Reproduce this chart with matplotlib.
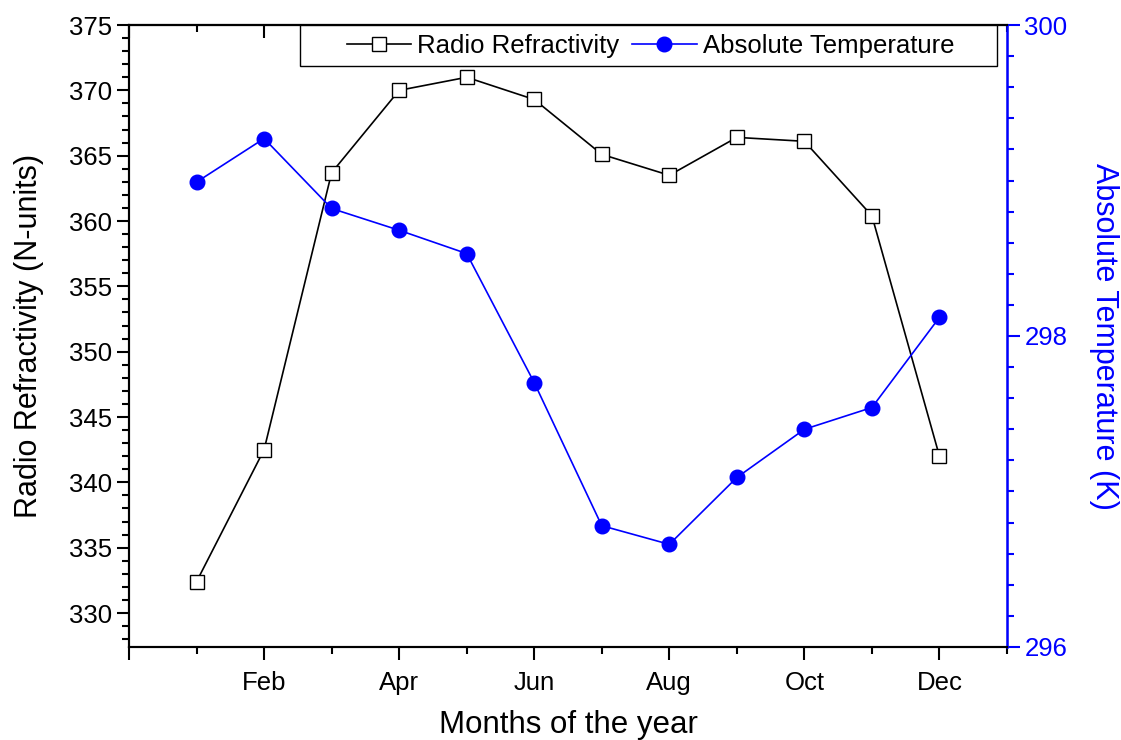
import matplotlib.pyplot as plt
import matplotlib.patches as mpatches
import numpy as np

plt.rcParams['font.family'] = ['Liberation Sans', 'DejaVu Sans']

# datos
meses = [1, 2, 3, 4, 5, 6, 7, 8, 9, 10, 11, 12]
etiquetas_x = ['', 'Feb', 'Apr', 'Jun', 'Aug', 'Oct', 'Dec']
refractividad = [332.4, 342.5, 363.7, 370.0, 371.0, 369.3, 365.1, 363.5, 366.4, 366.1, 360.4, 342.0]
temperatura = [298.99, 299.27, 298.82, 298.68, 298.53, 297.70, 296.78, 296.66, 297.09, 297.40, 297.54, 298.12]

fig = plt.figure(figsize=(11.21, 7.40), dpi=100)
ax = fig.add_axes([0.1151, 0.1257, 0.7832, 0.8405])
ax2 = ax.twinx()

l1, = ax.plot(meses, refractividad, color='black', lw=1.2, marker='s', ms=9.5,
              mfc='white', mec='black', mew=1.0, label='Radio Refractivity')
l2, = ax2.plot(meses, temperatura, color='blue', lw=1.2, marker='o', ms=10.5,
               mfc='blue', mec='blue', label='Absolute Temperature')

# eje x
ax.set_xlim(0, 13)
ax.set_xticks(np.arange(0, 13, 2))
ax.set_xticklabels(etiquetas_x)
ax.set_xticks(np.arange(1, 14, 2), minor=True)
ax.tick_params(axis='x', which='major', direction='out', length=9, width=1.5, labelsize=18.5, pad=8)
ax.tick_params(axis='x', which='minor', direction='out', length=5, width=1.5)
ax.set_xlabel('Months of the year', fontsize=22.5, labelpad=11)

# ticks superiores hacia adentro
sec = ax.secondary_xaxis('top')
sec.set_xticks(np.arange(0, 13, 2))
sec.set_xticks(np.arange(1, 14, 2), minor=True)
sec.tick_params(which='major', direction='in', length=9, width=1.5, labeltop=False)
sec.tick_params(which='minor', direction='in', length=5, width=1.5)
sec.spines['top'].set_linewidth(1.5)

# eje izquierdo
ax.set_ylim(327.4, 375)
ax.set_yticks(np.arange(330, 376, 5))
ax.set_yticks(np.arange(328, 376, 1), minor=True)
ax.tick_params(axis='y', which='major', direction='out', length=9, width=1.5, labelsize=18.5)
ax.tick_params(axis='y', which='minor', direction='out', length=5, width=1.5)
ax.set_ylabel('Radio Refractivity (N-units)', fontsize=22, labelpad=18)

# eje derecho
ax2.set_ylim(296, 300)
ax2.set_yticks([296, 298, 300])
ax2.set_yticks(np.arange(296, 300.01, 0.2), minor=True)
ax2.tick_params(axis='y', which='major', direction='out', length=9, width=1.5,
                labelsize=18.5, colors='blue')
ax2.tick_params(axis='y', which='minor', direction='out', length=5, width=1.5, colors='blue')
ax2.set_ylabel('Absolute Temperature (K)', fontsize=22, color='blue', rotation=270, labelpad=37)

for s in ['left', 'bottom', 'top']:
    ax.spines[s].set_linewidth(1.5)
    ax2.spines[s].set_linewidth(1.5)
ax2.spines['right'].set_linewidth(1.8)
ax2.spines['right'].set_color('blue')

# caja de la leyenda, mas ancha que su contenido
caja = mpatches.Rectangle((0.1948, 0.934), 0.7938, 0.066, transform=ax2.transAxes,
                          facecolor='white', edgecolor='black', lw=1.0, zorder=5)
ax2.add_patch(caja)
leg = ax2.legend(handles=[l1, l2], loc='center', bbox_to_anchor=(0.594, 0.967), ncol=2,
                 fontsize=18.5, frameon=False, handlelength=2.5, handletextpad=0.25,
                 columnspacing=0.5, borderpad=0.2, borderaxespad=0)
leg.set_zorder(6)

plt.savefig('out.png', dpi=100)
